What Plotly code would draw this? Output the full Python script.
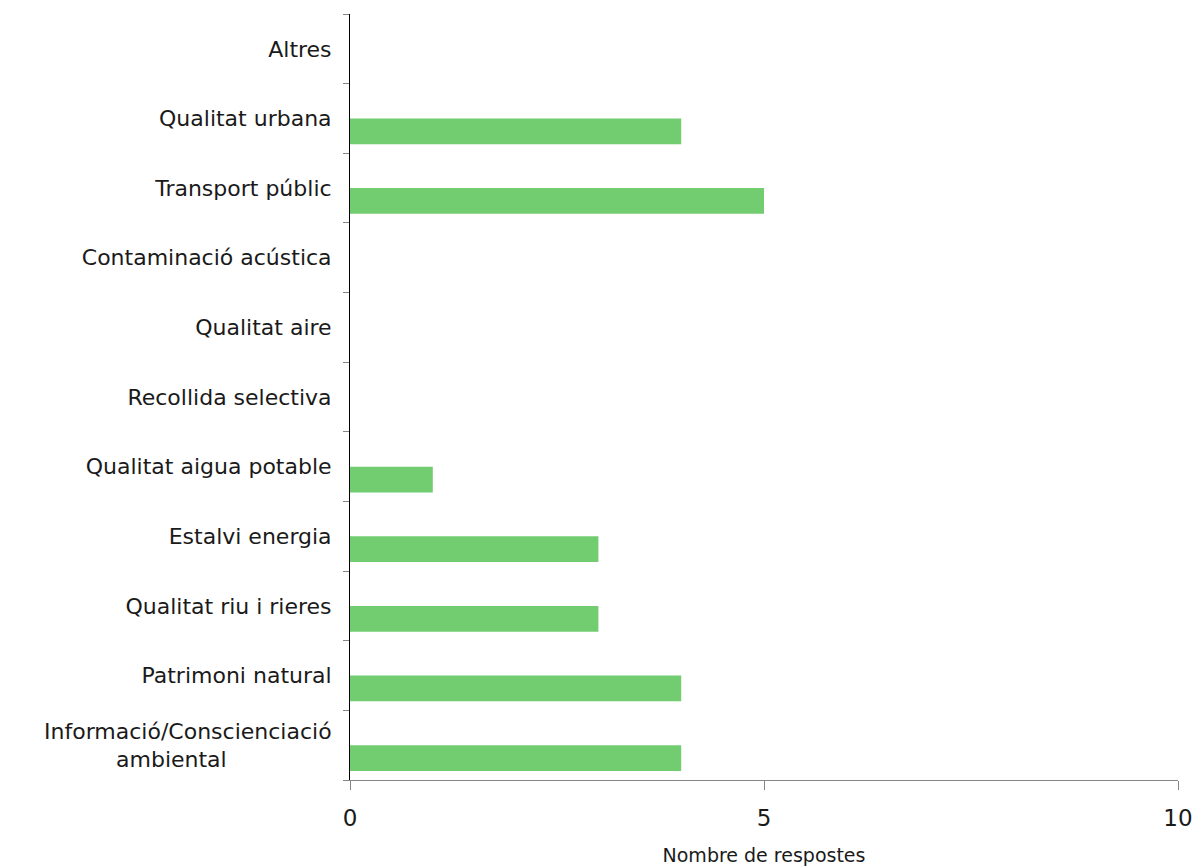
import plotly.graph_objects as go

NB = "\u00a0"
categories = [
    "Informació/Conscienciació<br>ambiental" + NB * 15,
    "Patrimoni natural",
    "Qualitat riu i rieres",
    "Estalvi energia",
    "Qualitat aigua potable",
    "Recollida selectiva",
    "Qualitat aire",
    "Contaminació acústica",
    "Transport públic",
    "Qualitat urbana",
    "Altres",
]
values = [4, 4, 3, 3, 1, 0, 0, 0, 5, 4, 0]
x_ticks = [0, 5, 10]
x_title = "Nombre de respostes"

FONT = "DejaVu Sans"

fig = go.Figure()
fig.add_trace(go.Bar(
    x=values,
    y=categories,
    orientation="h",
    width=0.37,
    offset=-0.37,
    marker=dict(color="#72cc70", line=dict(width=0)),
    showlegend=False,
))

fig.update_layout(
    width=1201,
    height=868,
    margin=dict(l=342, r=31, t=6, b=96),
    paper_bgcolor="white",
    plot_bgcolor="white",
    font=dict(family=FONT, size=22, color="#1a1a1a"),
    xaxis=dict(
        range=[0, 10],
        tickvals=x_ticks,
        showgrid=False,
        zeroline=False,
        showline=True,
        linecolor="#868686",
        linewidth=1,
        ticks="outside",
        tickcolor="#868686",
        ticklen=9,
        tickfont=dict(size=23),
        ticklabelstandoff=8,
        title=dict(text=x_title, font=dict(size=19), standoff=19),
    ),
    yaxis=dict(
        categoryorder="array",
        categoryarray=categories,
        showgrid=False,
        zeroline=False,
        showline=True,
        linecolor="black",
        linewidth=1,
        ticks="outside",
        tickson="boundaries",
        tickcolor="#868686",
        ticklen=6,
        tickfont=dict(size=22),
        ticklabelstandoff=13,
    ),
)

fig.write_html("out.html")
